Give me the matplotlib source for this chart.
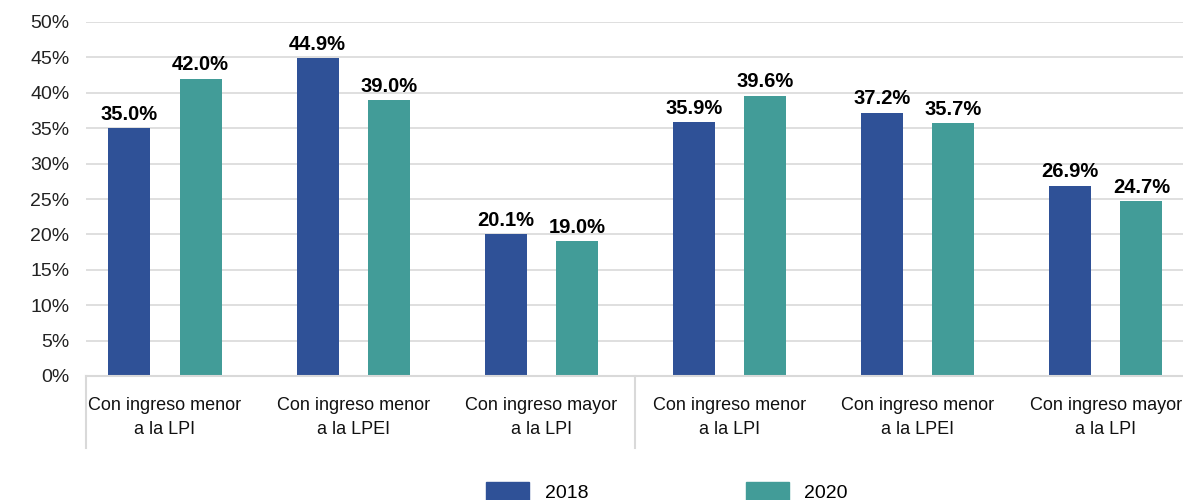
import matplotlib
matplotlib.use("Agg")
import matplotlib.pyplot as plt
import numpy as np
from matplotlib.patches import Patch

categories = ["Con ingreso menor\na la LPI", "Con ingreso menor\na la LPEI", "Con ingreso mayor\na la LPI",
              "Con ingreso menor\na la LPI", "Con ingreso menor\na la LPEI", "Con ingreso mayor\na la LPI"]
series_names = ["2018", "2020"]
values_2018 = [35.0, 44.9, 20.1, 35.9, 37.2, 26.9]
values_2020 = [42.0, 39.0, 19.0, 39.6, 35.7, 24.7]
yticks = [0, 5, 10, 15, 20, 25, 30, 35, 40, 45, 50]

blue = "#2F5197"
teal = "#429C98"
W, H = 1183, 500
fig = plt.figure(figsize=(W / 100, H / 100), dpi=100)
ax_left, ax_right = 86, 1183
ax = fig.add_axes([ax_left / W, (H - 376) / H, (ax_right - ax_left) / W, (376 - 22) / H])

x = np.arange(len(categories))
bw = 0.223
off = 0.189
b1 = ax.bar(x - off, values_2018, bw, color=blue, label=series_names[0])
b2 = ax.bar(x + off, values_2020, bw, color=teal, label=series_names[1])

for bars, vals in ((b1, values_2018), (b2, values_2020)):
    for r, v in zip(bars, vals):
        ax.annotate(f"{v:.1f}%", (r.get_x() + r.get_width() / 2, v), xytext=(0, 3),
                    textcoords="offset points", ha="center", va="bottom",
                    fontsize=14.5, fontweight="bold", family="Liberation Sans", color="black")

ax.set_xlim(-0.42, 5.41)
ax.set_ylim(0, 50)
ax.set_yticks(yticks)
ax.set_yticklabels([f"{t}%" for t in yticks], family="Liberation Sans", fontsize=14, color="#222222")
ax.yaxis.grid(True, color="#D9D9D9", linewidth=1.2)
ax.set_axisbelow(True)
ax.tick_params(axis="y", length=0, pad=12)
ax.tick_params(axis="x", length=0, pad=15)
ax.set_xticks(x)
ax.set_xticklabels(categories, family="Liberation Sans", fontsize=13,
                   linespacing=1.55, color="#111111")
for s in ["top", "right", "left"]:
    ax.spines[s].set_visible(False)
ax.spines["bottom"].set_color("#D9D9D9")
ax.spines["bottom"].set_linewidth(1.5)

trans = ax.get_xaxis_transform()
for xs in (-0.42, 2.5):
    ax.plot([xs, xs], [0, -72 / 354], transform=trans, color="#D9D9D9", lw=1.5, clip_on=False)

handles = [Patch(color=blue), Patch(color=teal)]
fig.legend(handles, series_names, loc="center", bbox_to_anchor=(667 / W, 1 - 492 / H), ncol=2,
           frameon=False, prop={"family": "Liberation Sans", "size": 14},
           handlelength=2.2, handleheight=1.0, handletextpad=0.8, columnspacing=8.1)

fig.savefig("out.png", dpi=100)
